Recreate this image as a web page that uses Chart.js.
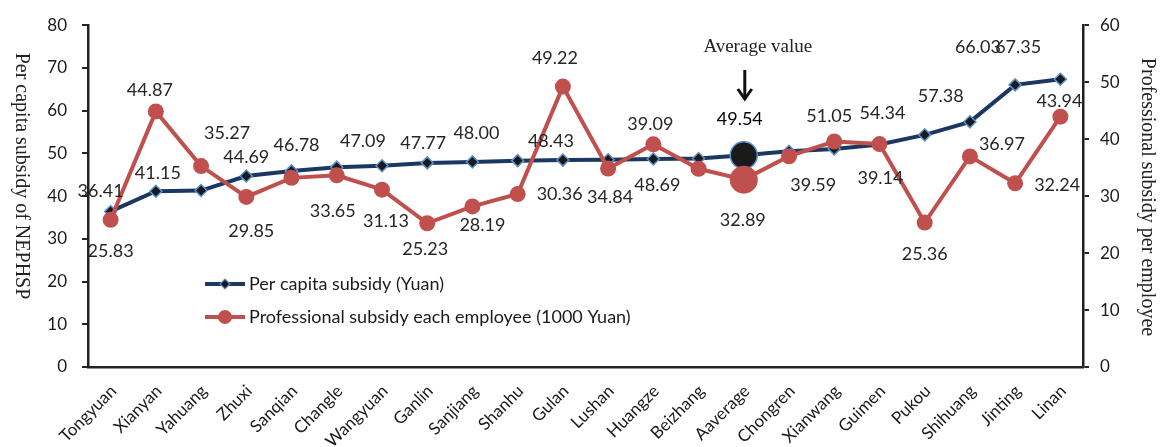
<!DOCTYPE html>
<html>
<head>
<meta charset="utf-8">
<script src="https://cdn.jsdelivr.net/npm/chart.js@4.4.1/dist/chart.umd.min.js"></script>
<style>
  html, body { margin: 0; padding: 0; background: #fff; }
  #wrap { width: 1164px; height: 447px; }
</style>
</head>
<body>
<div id="wrap"><canvas id="chart" width="1164" height="447"></canvas></div>
<script>
// categories (x axis)
const categories = ['Tongyuan', 'Xianyan', 'Yahuang', 'Zhuxi', 'Sanqian', 'Changle', 'Wangyuan', 'Ganlin',
  'Sanjiang', 'Shanhu', 'Gulan', 'Lushan', 'Huangze', 'Beizhang', 'Aaverage', 'Chongren', 'Xianwang',
  'Guimen', 'Pukou', 'Shihuang', 'Jinting', 'Linan'];

// left axis series (Yuan)
const perCapita = [36.41, 41.15, 41.3, 44.69, 45.9, 46.78, 47.09, 47.77, 48.00, 48.3, 48.43, 48.5,
  48.69, 48.8, 49.54, 50.5, 51.05, 52.1, 54.34, 57.38, 66.03, 67.35];

// right axis series (1000 Yuan)
const professional = [25.83, 44.87, 35.27, 29.85, 33.2, 33.65, 31.13, 25.23, 28.19, 30.36, 49.22, 34.84,
  39.09, 34.8, 32.89, 37.0, 39.59, 39.14, 25.36, 36.97, 32.24, 43.94];

// value labels as printed in the figure, by the category they sit at
const perCapitaLabels = ['36.41', '41.15', '', '44.69', '46.78', '', '47.09', '47.77', '48.00', '', '48.43', '',
  '48.69', '', '49.54', '', '51.05', '54.34', '57.38', '66.03', '67.35', ''];
const professionalLabels = ['25.83', '44.87', '35.27', '29.85', '', '33.65', '31.13', '25.23', '28.19', '30.36',
  '49.22', '34.84', '39.09', '', '32.89', '', '39.59', '39.14', '25.36', '36.97', '32.24', '43.94'];

const seriesNames = ['Per capita subsidy (Yuan)', 'Professional subsidy each employee (1000 Yuan)'];
const leftTitle = 'Per capita subsidy of NEPHSP';
const rightTitle = 'Professional subsidy per employee';
const avgNote = 'Average value';

const avgIdx = categories.indexOf('Aaverage');

const BLUE = '#1c3861';
const EDGE = '#5b8fd0';
const RED = '#c0504d';
const INK = '#262626';
const SANS = 'Lato, "Open Sans", sans-serif';
const SERIF = '"Liberation Serif", "Times New Roman", serif';

// label offsets from their point (px)
const blueOff = {0:[-10,-20],1:[2,-18],3:[0,-19],4:[5,-26],6:[-19,-25],7:[-4,-20],8:[4,-29],10:[-12,-19],
  12:[4,26],14:[-4,-36],16:[-5,-33],17:[3,-31],18:[16,-39],19:[8,-75],20:[3,-38]};
const redOff = {0:[0,31],1:[-6,-21],2:[26,-33],3:[5,34],5:[-4,36],6:[4,32],7:[-2,26],8:[10,19],9:[42,0],
  10:[-8,-28],11:[2,29],12:[-3,-20],14:[-1,41],16:[-21,44],17:[1,34],18:[0,32],19:[32,-12],20:[42,2],21:[-1,-16]};

const extras = {
  id: 'extras',
  afterDraw(chart) {
    const c = chart.ctx;
    const redMeta = chart.getDatasetMeta(0);
    const blueMeta = chart.getDatasetMeta(1);
    c.save();
    c.textAlign = 'center';
    c.textBaseline = 'middle';
    c.font = '18px ' + SANS;

    perCapitaLabels.forEach((t, i) => {
      if (!t) return;
      const p = blueMeta.data[i], o = blueOff[i] || [0, -20];
      c.fillStyle = i === avgIdx ? '#000' : INK;
      c.fillText(t, p.x + o[0], p.y + o[1]);
    });
    professionalLabels.forEach((t, i) => {
      if (!t) return;
      const p = redMeta.data[i], o = redOff[i] || [0, 30];
      c.fillStyle = INK;
      c.fillText(t, p.x + o[0], p.y + o[1]);
    });

    // average note + arrow
    const ap = blueMeta.data[avgIdx];
    c.fillStyle = '#222';
    c.font = '19px ' + SERIF;
    c.fillText(avgNote, ap.x + 14, 47);
    c.strokeStyle = '#111';
    c.lineWidth = 3;
    c.beginPath();
    c.moveTo(ap.x + 1, 70);
    c.lineTo(ap.x + 1, 99);
    c.stroke();
    c.beginPath();
    c.moveTo(ap.x - 6, 89);
    c.lineTo(ap.x + 1, 99);
    c.lineTo(ap.x + 8, 89);
    c.stroke();

    // legend inside plot
    const lx = 205, ly = [284, 317];
    c.lineWidth = 4;
    c.strokeStyle = BLUE;
    c.beginPath(); c.moveTo(lx, ly[0]); c.lineTo(lx + 40, ly[0]); c.stroke();
    c.fillStyle = '#1a1a1a'; c.strokeStyle = EDGE; c.lineWidth = 1.2;
    c.beginPath();
    c.moveTo(lx + 20, ly[0] - 5); c.lineTo(lx + 25, ly[0]); c.lineTo(lx + 20, ly[0] + 5); c.lineTo(lx + 15, ly[0]);
    c.closePath(); c.fill(); c.stroke();
    c.lineWidth = 4; c.strokeStyle = RED;
    c.beginPath(); c.moveTo(lx, ly[1]); c.lineTo(lx + 40, ly[1]); c.stroke();
    c.fillStyle = RED;
    c.beginPath(); c.arc(lx + 20, ly[1], 7, 0, Math.PI * 2); c.fill();
    c.fillStyle = '#1a1a1a';
    c.font = '18px ' + SANS;
    c.textAlign = 'left';
    c.fillText(seriesNames[0], lx + 44, ly[0]);
    c.fillText(seriesNames[1], lx + 44, ly[1]);

    // axis titles, both read top to bottom
    c.font = '20px ' + SERIF;
    c.textAlign = 'center';
    c.fillStyle = '#222';
    c.translate(21, 176);
    c.rotate(Math.PI / 2);
    c.fillText(leftTitle, 0, 0);
    c.setTransform(1, 0, 0, 1, 0, 0);
    c.translate(1147, 197);
    c.rotate(Math.PI / 2);
    c.fillText(rightTitle, 0, 0);
    c.restore();
  }
};

new Chart(document.getElementById('chart'), {
  type: 'line',
  data: {
    labels: categories,
    datasets: [
      {
        label: seriesNames[1],
        data: professional,
        yAxisID: 'y1',
        order: 0,
        borderColor: RED,
        backgroundColor: RED,
        borderWidth: 4,
        pointStyle: 'circle',
        pointRadius: ctx => ctx.dataIndex === avgIdx ? 14 : 8,
        pointBorderWidth: 0,
        pointBackgroundColor: RED,
        tension: 0
      },
      {
        label: seriesNames[0],
        data: perCapita,
        yAxisID: 'y',
        order: 1,
        borderColor: BLUE,
        borderWidth: 4,
        pointStyle: ctx => ctx.dataIndex === avgIdx ? 'circle' : 'rectRot',
        pointRadius: ctx => ctx.dataIndex === avgIdx ? 13.5 : 6,
        pointBorderWidth: 1.5,
        pointBorderColor: EDGE,
        pointBackgroundColor: '#1a1a1a',
        tension: 0
      }
    ]
  },
  options: {
    responsive: false,
    animation: false,
    layout: { padding: { top: 17 } },
    plugins: { legend: { display: false }, tooltip: { enabled: false } },
    scales: {
      x: {
        offset: true,
        grid: { display: false, offset: true },
        border: { display: true, color: '#222', width: 2.5 },
        ticks: {
          autoSkip: false, minRotation: 45, maxRotation: 45, padding: 6, labelOffset: 3,
          color: '#1a1a1a', font: { family: SANS, size: 17 }
        },
        afterFit: s => { s.height = 80; }
      },
      y: {
        position: 'left',
        min: 0, max: 80,
        grid: { drawOnChartArea: false, color: '#222', lineWidth: 2, tickLength: 6 },
        border: { display: true, color: '#222', width: 2.5 },
        ticks: { stepSize: 10, padding: 15, color: '#1a1a1a', font: { family: SANS, size: 17 } },
        afterFit: s => { s.width = 88; }
      },
      y1: {
        position: 'right',
        min: 0, max: 60,
        grid: { drawOnChartArea: false, color: '#222', lineWidth: 2, tickLength: 6 },
        border: { display: true, color: '#222', width: 2.5 },
        ticks: { stepSize: 10, padding: 11, color: '#1a1a1a', font: { family: SANS, size: 17 } },
        afterFit: s => { s.width = 81; }
      }
    }
  },
  plugins: [extras]
});
</script>
</body>
</html>
